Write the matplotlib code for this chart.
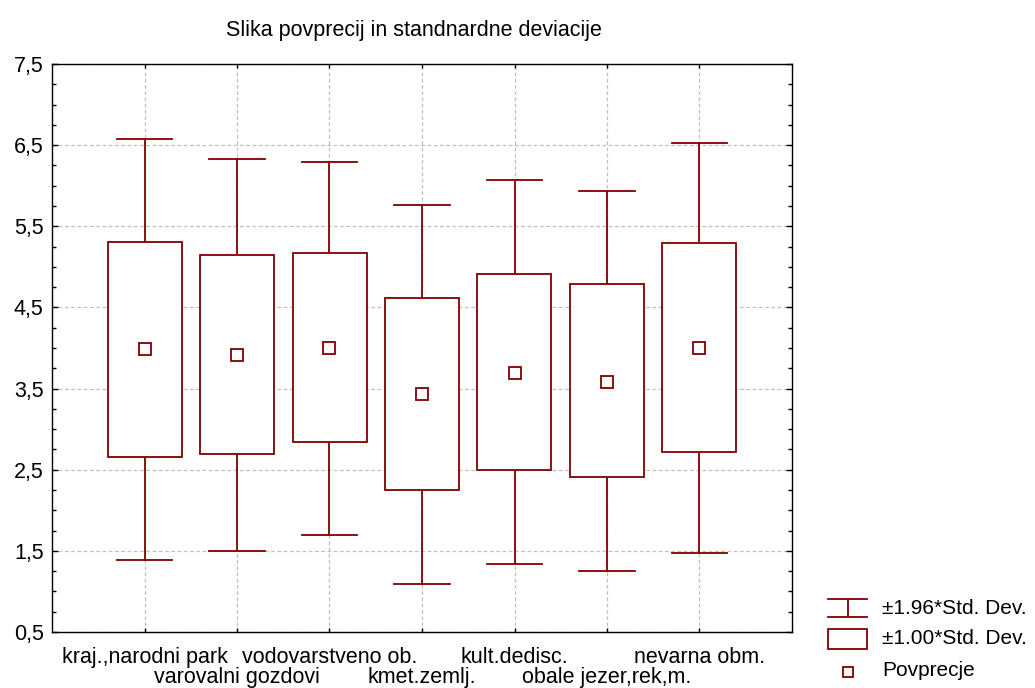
#!/usr/bin/env python3

import matplotlib
matplotlib.use("Agg")
import matplotlib.pyplot as plt
from matplotlib.patches import Rectangle
from matplotlib.lines import Line2D
from matplotlib.ticker import MultipleLocator, FuncFormatter

plt.rcParams["font.family"] = ["Liberation Sans", "DejaVu Sans"]

# Categories (every second label goes on a lower row)
categories = ["kraj.,narodni park", "varovalni gozdovi", "vodovarstveno ob.",
              "kmet.zemlj.", "kult.dedisc.", "obale jezer,rek,m.",
              "nevarna obm."]

# Values
means = [3.99, 3.91, 4.00, 3.43, 3.69, 3.58, 4.00]
box_lo = [2.66, 2.69, 2.84, 2.25, 2.50, 2.41, 2.72]    # mean - 1.00*SD
box_hi = [5.31, 5.15, 5.17, 4.62, 4.91, 4.79, 5.29]    # mean + 1.00*SD
whisk_lo = [1.39, 1.50, 1.70, 1.09, 1.34, 1.25, 1.47]  # mean - 1.96*SD
whisk_hi = [6.58, 6.33, 6.29, 5.76, 6.07, 5.93, 6.53]  # mean + 1.96*SD

title = "Slika povprecij in standnardne deviacije"
legend_labels = ["\u00b11.96*Std. Dev.", "\u00b11.00*Std. Dev.", "Povprecje"]

red = "#800000"
W, H = 1035, 688


def px(x, y):
    # pixel position -> figure fraction
    return x / W, 1 - y / H


def main():
    fig = plt.figure(figsize=(W / 100, H / 100), dpi=100)
    ax = fig.add_axes([52 / W, 1 - 632 / H, 740 / W, 568 / H])

    box_w = 0.8
    cap_w = 0.6
    for i in range(len(categories)):
        x = i + 1
        # whiskers (+-1.96 SD)
        ax.plot([x, x], [whisk_lo[i], whisk_hi[i]], color=red, lw=1.3, zorder=2)
        ax.plot([x - cap_w / 2, x + cap_w / 2], [whisk_hi[i]] * 2, color=red, lw=1.3, zorder=2)
        ax.plot([x - cap_w / 2, x + cap_w / 2], [whisk_lo[i]] * 2, color=red, lw=1.3, zorder=2)
        # box (+-1 SD)
        ax.add_patch(Rectangle((x - box_w / 2, box_lo[i]), box_w, box_hi[i] - box_lo[i],
                               facecolor="white", edgecolor=red, lw=1.3, zorder=3))
    ax.plot(range(1, len(categories) + 1), means, ls="none", marker="s", ms=8,
            mfc="white", mec=red, mew=1.3, zorder=4)

    ax.set_xlim(0, 8)
    ax.set_ylim(0.5, 7.5)
    ax.set_xticks(range(1, len(categories) + 1))
    ax.set_xticklabels(categories, fontsize=15.5)
    ax.set_yticks([0.5 + k for k in range(8)])
    ax.yaxis.set_minor_locator(MultipleLocator(0.25))
    ax.yaxis.set_major_formatter(FuncFormatter(lambda v, p: ("%.1f" % v).replace(".", ",")))
    ax.tick_params(axis="y", labelsize=15.5)
    ax.tick_params(which="both", direction="in", top=True, right=True,
                   color="black", width=1)
    ax.tick_params(axis="y", which="major", length=4, pad=6)
    ax.tick_params(axis="y", which="minor", length=3)
    ax.tick_params(axis="x", length=3)
    for i, t in enumerate(ax.xaxis.get_major_ticks()):
        t.set_pad(11 if i % 2 == 0 else 25.5)
    ax.grid(True, which="major", color="#c0c0c0", ls=(0, (3, 2)), lw=0.9, zorder=0)
    ax.set_axisbelow(True)
    for s in ax.spines.values():
        s.set_linewidth(1.0)

    ax.set_title(title, fontsize=15.5, pad=20, x=0.489)

    # Legend, drawn by hand to get the whisker / box symbols
    x0, x1 = 828, 867
    xm = (x0 + x1) / 2
    fig.add_artist(Line2D(*zip(px(x0, 599), px(x1, 599)), color=red, lw=1.3))
    fig.add_artist(Line2D(*zip(px(x0, 617), px(x1, 617)), color=red, lw=1.3))
    fig.add_artist(Line2D(*zip(px(xm, 599), px(xm, 617)), color=red, lw=1.3))
    fig.add_artist(Rectangle(px(x0, 649), (x1 - x0) / W, 20 / H,
                             transform=fig.transFigure, facecolor="white",
                             edgecolor=red, lw=1.3))
    fig.add_artist(Line2D([px(xm, 672)[0]], [px(xm, 672)[1]], ls="none", marker="s",
                          ms=7, mfc="white", mec=red, mew=1.3))
    for lab, y in zip(legend_labels, [608, 639, 670]):
        fx, fy = px(882, y)
        fig.text(fx, fy, lab, fontsize=15, va="center", ha="left")

    fig.savefig("out.png", dpi=100)


if __name__ == "__main__":
    main()
